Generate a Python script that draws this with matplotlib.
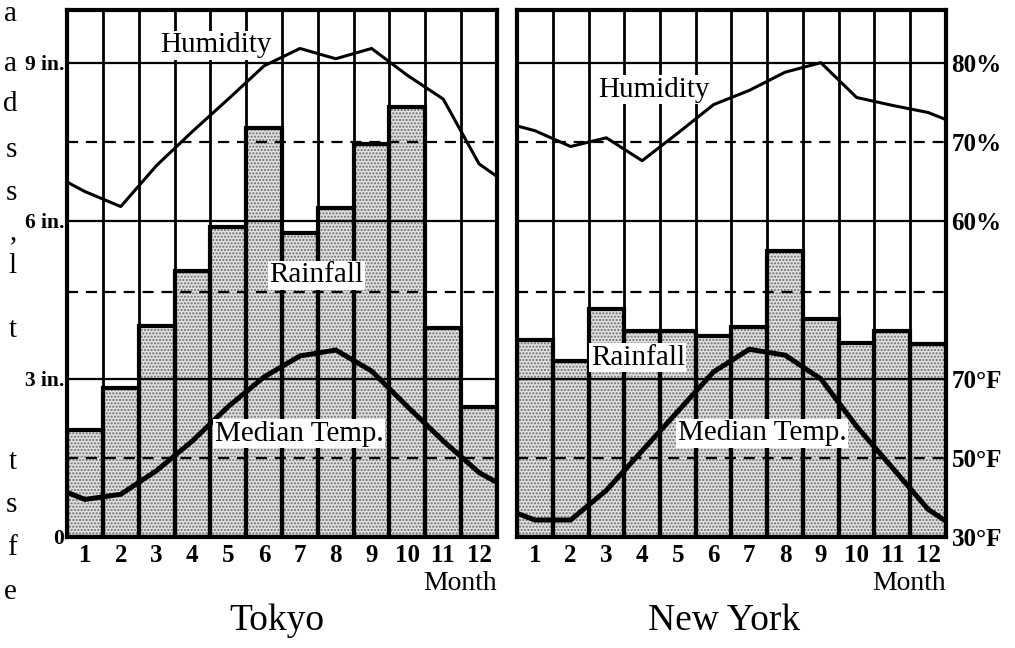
import matplotlib
matplotlib.use("Agg")
import matplotlib.pyplot as plt

plt.rcParams['font.family'] = ['Liberation Serif', 'DejaVu Serif']
plt.rcParams['hatch.linewidth'] = 1.0

# ---------------- data ----------------
months = [1, 2, 3, 4, 5, 6, 7, 8, 9, 10, 11, 12]
month_labels = [str(m) for m in months]

# rainfall, inches
tokyo_rain = [2.03, 2.83, 4.00, 5.05, 5.88, 7.76, 5.77, 6.24, 7.46, 8.16, 3.97, 2.47]
ny_rain = [3.74, 3.34, 4.33, 3.91, 3.91, 3.82, 3.99, 5.43, 4.14, 3.68, 3.91, 3.66]

# relative humidity, %
tokyo_hum = [63.7, 61.8, 67.0, 71.3, 75.4, 79.6, 81.8, 80.5, 81.8, 78.4, 75.4, 67.2]
ny_hum = [71.4, 69.4, 70.5, 67.6, 71.1, 74.7, 76.5, 78.8, 80.0, 75.6, 74.6, 73.7]
# curve values where the line meets the left / right panel edge
tokyo_hum_edges = [64.9, 65.6]
ny_hum_edges = [72.0, 72.8]

# median temperature, deg F
tokyo_temp = [39.5, 40.8, 46.8, 54.3, 63.0, 70.5, 75.8, 77.3, 72.0, 63.0, 54.3, 46.3]
ny_temp = [34.3, 34.3, 41.8, 51.8, 61.8, 71.8, 77.5, 76.0, 70.0, 58.0, 47.5, 37.0]
tokyo_temp_edges = [41.3, 43.8]
ny_temp_edges = [36.0, 34.0]

rain_ticks = [0, 3, 6, 9]
rain_tick_labels = ['0', '3 in.', '6 in.', '9 in.']
hum_ticks = [60, 70, 80]
hum_tick_labels = ['60%', '70%', '80%']
temp_ticks = [30, 50, 70]
temp_tick_labels = ['30°F', '50°F', '70°F']

cities = ['Tokyo', 'New York']

# axis mappings of the printed chart: 9 in. = 80 %, 6 in. = 60 %; 0 in. = 30 F, 3 in. = 70 F
RAIN_LIM = (0, 10.0)
HUM_LIM = (80 + (RAIN_LIM[0] - 9) / 0.15, 80 + (RAIN_LIM[1] - 9) / 0.15)
TEMP_LIM = (30 + RAIN_LIM[0] / 0.075, 30 + RAIN_LIM[1] / 0.075)

# ---------------- figure ----------------
W, H = 1015, 648
fig = plt.figure(figsize=(W / 100, H / 100), dpi=100)
fig.patch.set_facecolor('white')


def px_axes(x0, y0, x1, y1):
    return fig.add_axes([x0 / W, 1 - y1 / H, (x1 - x0) / W, (y1 - y0) / H])


def draw_panel(ax, rain, hum, hum_edges, temp, temp_edges, label_pos, left_labels, right_labels):
    ax.set_xlim(0.5, 12.5)
    ax.set_ylim(*RAIN_LIM)
    # stippled bars
    ax.bar(months, rain, width=1.0, color='#e0e0e0', edgecolor='#6a6a6a',
           linewidth=0, hatch='.....', zorder=1)
    ax.bar(months, rain, width=1.0, facecolor='none', edgecolor='black',
           linewidth=3.0, zorder=3)
    # grid
    for k in range(1, 12):
        ax.axvline(0.5 + k, color='black', lw=2.0, zorder=2)
    for yv in (3, 6, 9):
        ax.axhline(yv, color='black', lw=1.6, zorder=2)
    for yv in (1.5, 4.65, 7.5):
        ax.axhline(yv, color='black', lw=1.6, ls=(0, (5, 3.5)), zorder=2)

    for s in ax.spines.values():
        s.set_linewidth(3.0)
    ax.set_xticks(months)
    ax.set_xticklabels(month_labels, fontsize=18, fontweight='bold')
    ax.tick_params(axis='x', length=0, pad=5)
    if left_labels:
        ax.set_yticks(rain_ticks)
        ax.set_yticklabels(rain_tick_labels, fontsize=15.5, fontweight='bold')
        ax.tick_params(axis='y', length=0, pad=2)
    else:
        ax.set_yticks([])

    xs = [0.5] + months + [12.5]
    axh = ax.twinx()
    axh.set_ylim(*HUM_LIM)
    axh.plot(xs, [hum_edges[0]] + hum + [hum_edges[1]], color='black', lw=2.2,
             solid_joinstyle='round')
    axt = ax.twinx()
    axt.set_ylim(*TEMP_LIM)
    axt.plot(xs, [temp_edges[0]] + temp + [temp_edges[1]], color='black', lw=3.6,
             solid_joinstyle='round', solid_capstyle='butt')
    for a in (axh, axt):
        for s in a.spines.values():
            s.set_visible(False)
    if right_labels:
        axh.set_yticks(hum_ticks)
        axh.set_yticklabels(hum_tick_labels, fontsize=18, fontweight='bold')
        axh.tick_params(axis='y', length=0, pad=4)
        axt.set_yticks(temp_ticks)
        axt.set_yticklabels(temp_tick_labels, fontsize=18, fontweight='bold')
        axt.tick_params(axis='y', length=0, pad=4)
    else:
        axh.set_yticks([])
        axt.set_yticks([])

    bbox = dict(facecolor='white', edgecolor='none', pad=1.0)
    for name, (x, y) in label_pos.items():
        axt.text(x, y, name, transform=ax.transData, ha='center', va='center',
                 fontsize=21, bbox=bbox, zorder=10)


ax_t = px_axes(67, 10, 497, 537)
ax_n = px_axes(517, 10, 946, 537)

draw_panel(ax_t, tokyo_rain, tokyo_hum, tokyo_hum_edges, tokyo_temp, tokyo_temp_edges,
           {'Humidity': (4.66, 9.33), 'Rainfall': (7.45, 4.97), 'Median Temp.': (6.97, 1.96)},
           left_labels=True, right_labels=False)
draw_panel(ax_n, ny_rain, ny_hum, ny_hum_edges, ny_temp, ny_temp_edges,
           {'Humidity': (4.33, 8.49), 'Rainfall': (3.88, 3.40), 'Median Temp.': (7.35, 1.97)},
           left_labels=False, right_labels=True)

# "Month" captions and city names
fig.text(497 / W, 1 - 584 / H, 'Month', ha='right', va='center', fontsize=20)
fig.text(946 / W, 1 - 584 / H, 'Month', ha='right', va='center', fontsize=20)
fig.text(277 / W, 1 - 621 / H, cities[0], ha='center', va='center', fontsize=27)
fig.text(724 / W, 1 - 621 / H, cities[1], ha='center', va='center', fontsize=27)

# cut-off letters of the neighbouring book column at the left edge
edge_letters = [(14, 'a'), (64, 'a'), (104, 'd'), (150, 's'), (193, 's'), (232, ','),
                (266, 'l'), (330, 't'), (462, 't'), (505, 's'), (548, 'f'), (592, 'e')]
for yy, ch in edge_letters:
    fig.text(17 / W, 1 - yy / H, ch, ha='right', va='center', fontsize=21)

fig.savefig('out.png', dpi=100, facecolor='white')
